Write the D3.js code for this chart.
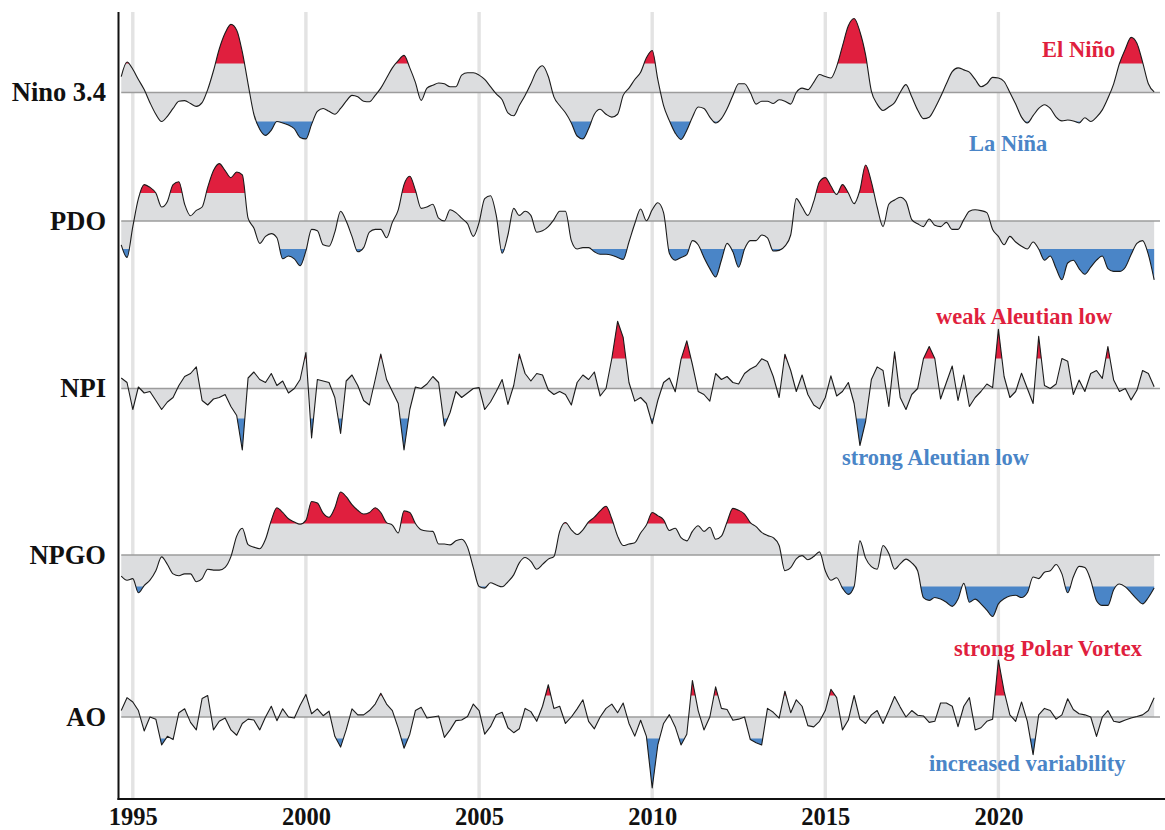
<!DOCTYPE html>
<html>
<head>
<meta charset="utf-8">
<script src="https://cdn.jsdelivr.net/npm/d3@7"></script>
<style>
  body { margin: 0; background: #fff; }
  svg { display: block; }
  text { font-family: "Liberation Serif", "Times New Roman", serif; font-weight: bold; }
</style>
</head>
<body>
<svg width="1165" height="830"></svg>
<script>
// bi-monthly values, Sep 1994 .. Jul 2024, in threshold units (+1 / -1 = colour threshold)
var nino34 = [
  0.55, 1.05,
  0.8, 0.45, 0.1, -0.35, -0.75, -1.0,
  -0.82, -0.55, -0.3, -0.28, -0.38, -0.48,
  -0.35, 0.1, 0.75, 1.5, 2.05, 2.35,
  2.15, 1.4, 0.3, -0.75, -1.27, -1.48,
  -1.3, -1.0, -1.05, -1.12, -1.25, -1.55,
  -1.6, -1.1, -0.65, -0.55, -0.65, -0.75,
  -0.55, -0.3, -0.1, -0.15, -0.3, -0.32,
  -0.1, 0.15, 0.5, 0.85, 1.1, 1.28,
  0.85, 0.35, -0.27, 0.15, 0.25, 0.33,
  0.3, 0.2, 0.2, 0.6, 0.68, 0.68,
  0.6, 0.45, 0.2, -0.05, -0.25, -0.7,
  -0.8, -0.45, -0.1, 0.3, 0.75, 0.92,
  0.55, -0.15, -0.45, -0.7, -1.05, -1.5,
  -1.6, -1.25, -0.75, -0.58, -0.75, -0.85,
  -0.75, -0.1, 0.15, 0.45, 0.7, 1.2,
  1.45, 0.45, -0.45, -0.97, -1.4, -1.62,
  -1.3, -0.85, -0.5, -0.55, -0.85, -1.05,
  -0.9, -0.56, -0.1, 0.3, 0.3, 0.0,
  -0.4, -0.3, -0.3, -0.38, -0.25, -0.3,
  -0.4, 0.0, 0.15, 0.1, 0.35, 0.62,
  0.55, 0.5, 0.9, 1.6, 2.3, 2.55,
  2.1, 1.3, 0.05, -0.4, -0.62, -0.5,
  -0.35, 0.0, 0.27, -0.15, -0.6, -0.9,
  -0.85, -0.55, -0.15, 0.3, 0.72, 0.85,
  0.78, 0.7, 0.45, 0.2, 0.3, 0.52,
  0.5, 0.38, 0.0, -0.4, -0.85, -1.05,
  -0.8, -0.55, -0.42, -0.55, -0.85, -0.98,
  -0.95, -0.98, -1.05, -0.87, -1.0, -0.85,
  -0.6, -0.2, 0.3, 1.0, 1.5, 1.9,
  1.7, 1.05, 0.3, 0.02
];

var pdo = [
  -0.85, -1.3,
  -0.2, 0.8, 1.3, 1.2, 1.0, 0.5,
  0.7, 1.3, 1.4, 0.6, 0.19, 0.38,
  0.5, 1.2, 1.8, 2.05, 1.8, 1.55,
  1.75, 1.65, 0.1, -0.25, -0.8, -0.55,
  -0.45, -0.6, -1.35, -1.25, -1.35, -1.6,
  -1.07, -0.3, -0.35, -0.85, -0.9, -0.4,
  0.35, 0.0, -0.55, -1.1, -0.95, -0.4,
  -0.3, -0.3, -0.6, -0.05, 0.4, 1.3,
  1.6, 1.1, 0.45, 0.5, 0.6, 0.1,
  0.0, 0.4, 0.3, 0.1, -0.1, -0.55,
  -0.05, 0.8, 0.9, 0.2, -1.15, -0.5,
  0.45, 0.2, 0.35, 0.2, -0.4, -0.35,
  -0.2, 0.05, 0.35, 0.35, -0.7, -1.0,
  -0.95, -0.95, -1.1, -1.19, -1.19, -1.22,
  -1.3, -1.37, -0.75, -0.1, 0.43, 0.01,
  0.4, 0.65, 0.3, -1.15, -1.4, -1.3,
  -1.2, -0.7, -0.85, -1.3, -1.7, -2.0,
  -1.4, -0.8, -1.1, -1.65, -1.0, -0.7,
  -0.7, -0.5, -0.6, -1.07, -1.05, -0.9,
  -0.5, 0.8, 0.5, 0.2, 0.7, 1.4,
  1.55, 1.25, 0.95, 1.3, 1.0, 0.62,
  1.1, 2.0, 1.4, 0.5, -0.2, 0.6,
  0.75, 0.85, 0.7, 0.05, -0.1, -0.2,
  0.07, -0.15, -0.2, -0.05, -0.3, -0.3,
  0.05, 0.35, 0.4, 0.37, 0.3, -0.3,
  -0.55, -0.85, -0.55, -0.75, -0.9, -1.0,
  -0.75, -1.0, -1.4, -1.25, -1.7, -2.1,
  -1.5, -1.4, -1.7, -1.9, -1.65, -1.4,
  -1.25, -1.7, -1.8, -1.8, -1.65, -1.2,
  -0.8, -0.7, -1.2, -2.1
];

var npi = [
  0.35, 0.2,
  -0.7, 0.05, -0.15, -0.1, -0.4, -0.7,
  -0.45, -0.3, 0.1, 0.4, 0.5, 0.72,
  -0.4, -0.55, -0.35, -0.3, -0.2, -0.6,
  -0.9, -2.05, 0.35, 0.55, 0.3, 0.2,
  0.5, 0.1, 0.25, -0.15, 0.0, 0.3,
  1.2, -1.65, 0.3, 0.25, 0.2, -0.3,
  -1.5, 0.25, 0.45, 0.1, -0.4, -0.55,
  0.3, 1.15, 0.3, -0.1, -0.5, -2.05,
  -0.7, 0.05, 0.0, 0.15, 0.4, 0.2,
  -1.25, -0.8, -0.1, -0.3, -0.15, 0.0,
  0.03, -0.7, -0.45, -0.1, 0.3, -0.53,
  0.1, 1.15, 0.5, 0.25, 0.5, 0.45,
  -0.05, -0.2, -0.1, -0.2, -0.55, 0.2,
  0.45, 0.3, 0.55, -0.25, 0.0, 1.0,
  2.24, 1.7, 0.2, -0.42, -0.3, -0.5,
  -1.17, -0.4, 0.2, 0.35, -0.11, 0.97,
  1.59, 0.8, -0.1, -0.2, -0.42, 0.5,
  0.3, 0.4, 0.2, 0.15, 0.5, 0.65,
  0.75, 0.99, 0.9, 0.4, -0.3, 1.14,
  0.6, -0.1, 0.45, -0.2, -0.55, -0.68,
  -0.3, 0.42, -0.25, -0.1, 0.2, -0.5,
  -1.9, -1.1, 0.3, 0.72, 0.6, -0.6,
  1.22, -0.3, -0.7, -0.2, 0.0, 0.99,
  1.4, 1.0, -0.35, 0.2, 0.75, -0.4,
  0.45, -0.6, -0.3, -0.1, 0.15, 0.03,
  1.97, 0.4, -0.3, -0.1, 0.51, 0.0,
  -0.5, 1.74, 0.1, 0.0, 0.15, 1.0,
  0.91, -0.2, 0.28, -0.1, 0.5, 0.6,
  0.34, 1.4, 0.28, -0.1, 0.0, -0.38,
  -0.06, 0.6, 0.5, 0.06
];

var npgo = [
  -0.67, -0.8,
  -0.75, -1.2, -0.97, -0.8, -0.5, -0.06,
  -0.3, -0.6, -0.66, -0.6, -0.6, -0.85,
  -0.75, -0.45, -0.48, -0.48, -0.39, -0.05,
  0.6, 0.85, 0.33, 0.25, 0.2, 0.5,
  1.1, 1.5, 1.35, 1.15, 1.05, 0.98,
  1.1, 1.7, 1.65, 1.33, 1.2, 1.5,
  2.0, 1.85, 1.6, 1.42, 1.3, 1.35,
  1.5, 1.35, 1.03, 0.95, 0.7, 1.4,
  1.35, 1.0, 0.8, 0.76, 0.75, 0.35,
  0.35, 0.32, 0.45, 0.5, 0.25, -0.4,
  -1.0, -1.05, -0.88, -0.95, -1.01, -0.85,
  -0.63, -0.25, -0.08, -0.2, -0.45, -0.3,
  -0.13, -0.05, 0.75, 1.03, 0.8, 0.65,
  0.8, 1.05, 1.2, 1.4, 1.55, 1.15,
  0.6, 0.3, 0.35, 0.39, 0.7, 0.95,
  1.35, 1.25, 1.12, 0.78, 0.85, 0.55,
  0.45, 0.75, 0.93, 0.75, 0.88, 0.5,
  0.6, 1.05, 1.48, 1.42, 1.3, 1.03,
  0.9, 0.72, 0.62, 0.55, 0.3, -0.5,
  -0.4, -0.12, -0.02, -0.15, -0.05, 0.1,
  -0.5, -0.8, -0.72, -1.05, -1.25, -1.0,
  0.45, -0.1, -0.37, -0.45, 0.3, 0.05,
  -0.45, -0.28, -0.13, -0.25, -0.5, -1.35,
  -1.44, -1.35, -1.4, -1.5, -1.63, -1.4,
  -0.9, -1.5, -1.4, -1.55, -1.75, -1.95,
  -1.55, -1.39, -1.3, -1.28, -1.35, -1.2,
  -0.7, -0.75, -0.55, -0.5, -0.3, -0.6,
  -1.2, -0.7, -0.36, -0.4, -0.8, -1.45,
  -1.6, -1.6, -1.1, -0.92, -1.01, -1.2,
  -1.4, -1.55, -1.35, -1.05
];

var ao = [
  0.3, 0.9,
  0.7, 0.3, -0.65, 0.0, -0.1, -1.3,
  -0.9, -1.05, 0.2, 0.38, -0.25, -0.6,
  0.86, 1.0, -0.6, -0.2, -0.05, -0.6,
  -0.85, -0.3, -0.1, -0.14, -0.6, 0.0,
  0.5, -0.17, 0.38, 0.0, -0.05, 0.55,
  1.05, 0.15, 0.38, 0.06, 0.27, -0.9,
  -1.4, -0.6, 0.38, 0.1, 0.1, 0.3,
  0.6, 1.1, 0.6, 0.3, -0.52, -1.45,
  -0.8, 0.3, 0.45, -0.05, 0.0, 0.05,
  -0.95, -0.6, -0.17, -0.14, 0.02, 0.6,
  0.3, -0.8, -0.45, 0.1, 0.22, -0.5,
  -0.73, -0.55, 0.4, 0.25, -0.2, 0.5,
  1.5, 0.4, 0.5, -0.3, 0.0, 0.38,
  0.8, -0.2, -0.55, 0.0, 0.4, 0.6,
  0.2, 0.65, -0.3, -0.89, -0.15, -0.9,
  -3.3, -1.3, -0.3, 0.11, -0.46, -1.3,
  -0.8, 1.7, 0.3, -0.6, 0.0, 1.4,
  0.4, 0.35, -0.15, -0.1, 0.0, -1.05,
  -1.2, -1.3, 0.4, 0.22, -0.05, 1.2,
  0.2, 0.8, 0.5, -0.4, -0.46, -0.2,
  0.3, 1.29, 0.9, -0.6, -0.14, 1.0,
  -0.1, -0.3, 0.1, 0.3, -0.3, 0.3,
  0.95, 0.46, 0.0, 0.3, 0.08, 0.05,
  -0.25, -0.2, 0.65, 0.65, 0.5, -0.45,
  0.5, 0.9, -0.6, -0.5, -0.2, -0.1,
  2.65, 1.2, 0.1, -0.2, 0.7, -0.2,
  -1.75, 0.1, 0.4, 0.3, -0.1, 0.1,
  0.85, 0.35, 0.15, 0.1, 0.0, -0.9,
  0.0, 0.3, -0.2, -0.25, -0.14, -0.05,
  0.02, 0.1, 0.3, 0.9
];

var indexNames = ['Nino 3.4', 'PDO', 'NPI', 'NPGO', 'AO'];
var seriesValues = [nino34, pdo, npi, npgo, ao];
var tickYears = [1995, 2000, 2005, 2010, 2015, 2020];

var annotations = [
  { text: 'El Niño', cls: 'hi', x: 1042, y: 57 },
  { text: 'La Niña', cls: 'lo', x: 969, y: 151 },
  { text: 'weak Aleutian low', cls: 'hi', x: 936, y: 324 },
  { text: 'strong Aleutian low', cls: 'lo', x: 842, y: 465 },
  { text: 'strong Polar Vortex', cls: 'hi', x: 954, y: 656 },
  { text: 'increased variability', cls: 'lo', x: 929, y: 771 }
];

var startDate = new Date(1994, 8, 1);
var stepMonths = 2;

var svg = d3.select('svg');
var red = '#e01f3e', blue = '#4a85c7', grayFill = '#dcdddf';

// row layout: baseline y and pixels per threshold unit
var rows = [
  { base: 92.5, unit: 29 },
  { base: 221, unit: 28 },
  { base: 388.5, unit: 30 },
  { base: 555, unit: 31.5 },
  { base: 717, unit: 21.5 }
];
var axisX = 118.5, axisTop = 12, axisBottom = 799, plotRight = 1160;

var x = d3.scaleTime()
  .domain([new Date(1995, 0, 1), new Date(2020, 0, 1)])
  .range([132.8, 998.4]);

// vertical gridlines
svg.selectAll('.grid')
  .data(tickYears)
  .enter().append('line')
  .attr('class', 'grid')
  .attr('x1', d => x(new Date(d, 0, 1)))
  .attr('x2', d => x(new Date(d, 0, 1)))
  .attr('y1', axisTop)
  .attr('y2', axisBottom)
  .attr('stroke', '#e3e3e3')
  .attr('stroke-width', 3.4);

var defs = svg.append('defs');

seriesValues.forEach(function (values, r) {
  var row = rows[r];
  var y = d3.scaleLinear().domain([-1, 1]).range([row.base + row.unit, row.base - row.unit]);
  var data = values.map((v, i) => ({ date: d3.timeMonth.offset(startDate, i * stepMonths), v: v }));
  var smooth = (r === 2 || r === 4) ? d3.curveLinear : d3.curveMonotoneX;

  var area = d3.area()
    .x(d => x(d.date))
    .y0(y(0))
    .y1(d => y(d.v))
    .curve(smooth);
  var line = d3.line()
    .x(d => x(d.date))
    .y(d => y(d.v))
    .curve(smooth);

  defs.append('clipPath').attr('id', 'hi' + r)
    .append('rect').attr('x', 0).attr('y', 0).attr('width', 1165).attr('height', y(1));
  defs.append('clipPath').attr('id', 'lo' + r)
    .append('rect').attr('x', 0).attr('y', y(-1)).attr('width', 1165).attr('height', 830 - y(-1));

  var g = svg.append('g').attr('class', 'row');

  g.append('path').datum(data).attr('d', area).attr('fill', grayFill);
  g.append('path').datum(data).attr('d', area).attr('fill', red).attr('clip-path', 'url(#hi' + r + ')');
  g.append('path').datum(data).attr('d', area).attr('fill', blue).attr('clip-path', 'url(#lo' + r + ')');

  g.append('line')
    .attr('x1', x(startDate)).attr('x2', plotRight)
    .attr('y1', y(0)).attr('y2', y(0))
    .attr('stroke', '#9c9c9c').attr('stroke-width', 1.6);

  g.append('path').datum(data).attr('d', line)
    .attr('fill', 'none').attr('stroke', '#1b1b1b').attr('stroke-width', 1.1)
    .attr('stroke-linejoin', 'round');

  svg.append('text')
    .attr('x', 106).attr('y', y(0) + 8.5)
    .attr('text-anchor', 'end')
    .attr('font-size', 26.5)
    .attr('fill', '#111')
    .text(indexNames[r]);
});

// axes
svg.append('line')
  .attr('x1', axisX).attr('x2', axisX).attr('y1', axisTop).attr('y2', axisBottom + 1)
  .attr('stroke', '#111').attr('stroke-width', 2);
svg.append('line')
  .attr('x1', axisX - 1).attr('x2', 1165).attr('y1', axisBottom).attr('y2', axisBottom)
  .attr('stroke', '#111').attr('stroke-width', 2);

var xAxis = d3.axisBottom(x)
  .tickValues(tickYears.map(d => new Date(d, 0, 1)))
  .tickSize(0)
  .tickPadding(9)
  .tickFormat(d3.timeFormat('%Y'));

var axisG = svg.append('g')
  .attr('transform', 'translate(0,' + axisBottom + ')')
  .call(xAxis);
axisG.select('.domain').remove();
axisG.selectAll('text')
  .attr('font-size', 24.5)
  .attr('font-family', '"Liberation Serif", serif')
  .attr('font-weight', 'bold')
  .attr('fill', '#111');

// annotations
svg.selectAll('.note')
  .data(annotations)
  .enter().append('text')
  .attr('class', 'note')
  .attr('x', d => d.x)
  .attr('y', d => d.y)
  .attr('font-size', 22.5)
  .attr('fill', d => d.cls === 'hi' ? red : blue)
  .text(d => d.text);
</script>
</body>
</html>
